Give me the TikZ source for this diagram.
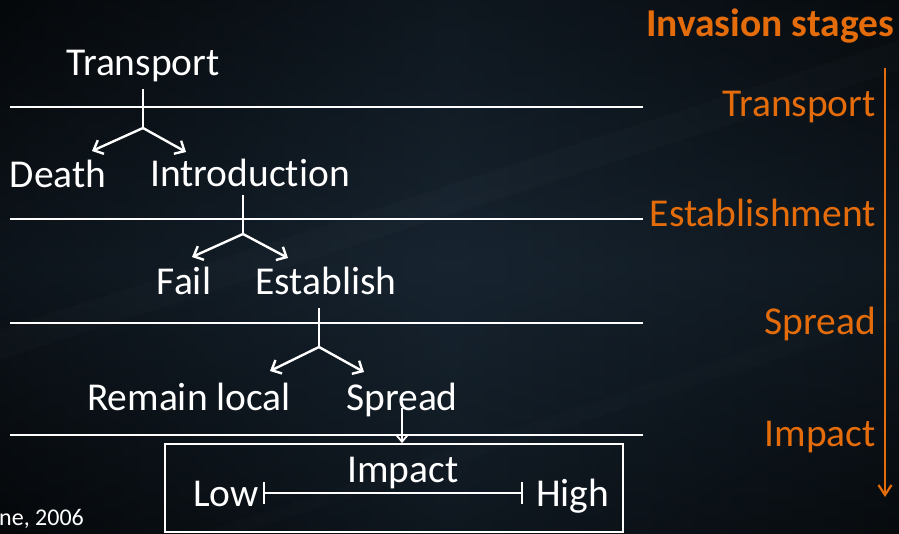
\documentclass[tikz,border=0pt]{standalone}
\usepackage{fontspec}
\setmainfont{Carlito}[Ligatures=NoCommon]
\usetikzlibrary{arrows.meta}
\definecolor{bgL}{HTML}{080C10}
\definecolor{bgM}{HTML}{172430}
\definecolor{bgR}{HTML}{0B1116}
\definecolor{stageorange}{HTML}{E46C0A}
\tikzset{
  lbl/.style={text=white,font=\fontsize{39.5}{42}\selectfont,inner sep=0pt,anchor=base},
  stage/.style={text=stageorange,font=\fontsize{39.5}{42}\selectfont,inner sep=0pt,anchor=base east},
  sepline/.style={draw=white,line width=2.8pt},
  wline/.style={draw=white,line width=2.4pt},
  warrow/.style={draw=white,line width=2.4pt,-{Straight Barb[length=8pt,width=15pt,line width=2.4pt]}},
}
\begin{document}
\begin{tikzpicture}[x=1pt,y=-1pt]
\useasboundingbox (0,0) rectangle (899,533);
% background
\shade[left color=bgL,right color=bgR,middle color=bgM] (0,0) rectangle (899,533);
\shade[top color=black,bottom color=black,middle color=bgM,opacity=0.35] (0,0) rectangle (899,533);
\fill[white,opacity=0.015] (0,330) -- (899,40) -- (899,70) -- (0,360) -- cycle;
\fill[white,opacity=0.012] (200,533) -- (899,300) -- (899,320) -- (240,533) -- cycle;

% separator lines
\coordinate (l1a) at (10,107); \coordinate (l1b) at (643,107);
\coordinate (l2a) at (10,219); \coordinate (l2b) at (643,219);
\coordinate (l3a) at (10,323); \coordinate (l3b) at (643,323);
\coordinate (l4a) at (10,435); \coordinate (l4b) at (643,435);
\draw[sepline] (l1a) -- (l1b);
\draw[sepline] (l2a) -- (l2b);
\draw[sepline] (l3a) -- (l3b);
\draw[sepline] (l4a) -- (l4b);

% tree texts
\node[lbl] (transport) at (143,75) {Transport};
\node[lbl] (death) at (58,187) {Death};
\node[lbl] (intro) at (250,186) {Introduction};
\node[lbl] (fail) at (184,294) {Fail};
\node[lbl] (establish) at (326,294) {Establish};
\node[lbl] (remain) at (189,410) {Remain local};
\node[lbl] (spread) at (402,410) {Spread};

% branch 1
\coordinate (s1) at (143,89); \coordinate (j1) at (143,128);
\coordinate (t1a) at (92,151); \coordinate (t1b) at (186,152);
\draw[wline] (s1) -- (j1);
\draw[warrow] (j1) -- (t1a);
\draw[warrow] (j1) -- (t1b);
% branch 2
\coordinate (s2) at (243,195); \coordinate (j2) at (243,234);
\coordinate (t2a) at (192,257); \coordinate (t2b) at (288,258);
\draw[wline] (s2) -- (j2);
\draw[warrow] (j2) -- (t2a);
\draw[warrow] (j2) -- (t2b);
% branch 3
\coordinate (s3) at (319,308); \coordinate (j3) at (319,347);
\coordinate (t3a) at (270,371); \coordinate (t3b) at (364,372);
\draw[wline] (s3) -- (j3);
\draw[warrow] (j3) -- (t3a);
\draw[warrow] (j3) -- (t3b);

% impact box
\node[draw=white,line width=1.8pt,minimum width=458pt,minimum height=88pt,inner sep=0pt] (box) at (394,488) {};
\coordinate (s4) at (402,408);
\draw[draw=white,line width=1.8pt,-{Straight Barb[length=7pt,width=12pt,line width=1.8pt]}] (s4) -- (box.north -| s4);
\node[lbl] (impact) at (403,482) {Impact};
\node[lbl,anchor=base east] (low) at (259,506) {Low};
\node[lbl,anchor=base west] (high) at (536,506) {High};
\coordinate (r1) at (263,493); \coordinate (r2) at (523,493);
\draw[draw=white,line width=1.6pt,{Bar[width=22pt,line width=1.6pt]}-{Bar[width=22pt,line width=1.6pt]}] (r1) -- (r2);

% citation
\node[text=white,font=\fontsize{24}{27}\selectfont,inner sep=0pt,anchor=base west] (cite) at (-1,525) {ne, 2006};

% right side: stages
\node[text=stageorange,font=\bfseries\fontsize{39.5}{42}\selectfont,inner sep=0pt,anchor=base east] (title) at (894,36) {Invasion stages};
\node[stage] (sT) at (876,116) {Transport};
\node[stage] (sE) at (876,226) {Establishment};
\node[stage] (sS) at (876,334) {Spread};
\node[stage] (sI) at (876,446) {Impact};
\coordinate (oa) at (885,68); \coordinate (ob) at (885,497);
\draw[draw=stageorange,line width=2.2pt,-{Straight Barb[length=10pt,width=13pt,line width=2.2pt]}] (oa) -- (ob);
\end{tikzpicture}
\end{document}
